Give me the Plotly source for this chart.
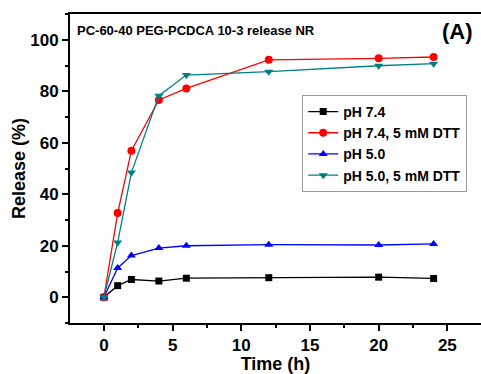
import plotly.graph_objects as go

time_h = [0, 1, 2, 4, 6, 12, 20, 24]
ph74 = [0, 4.5, 6.9, 6.3, 7.4, 7.6, 7.8, 7.3]
ph74_dtt = [0, 32.7, 56.9, 76.6, 81.1, 92.2, 92.8, 93.3]
ph50 = [0, 11.4, 16.2, 19.1, 20.0, 20.4, 20.3, 20.7]
ph50_dtt = [0, 21.3, 48.4, 78.3, 86.3, 87.6, 89.9, 90.7]

series = [
    ("pH 7.4", ph74, "#000000", "square", 7),
    ("pH 7.4, 5 mM DTT", ph74_dtt, "#ff0000", "circle", 8),
    ("pH 5.0", ph50, "#0000ff", "triangle-up", 8),
    ("pH 5.0, 5 mM DTT", ph50_dtt, "#008080", "triangle-down", 8),
]

fig = go.Figure()
for name, vals, color, sym, msize in series:
    fig.add_trace(go.Scatter(
        x=time_h, y=vals, name=name, mode="lines+markers",
        line=dict(color=color, width=1.3),
        marker=dict(color=color, symbol=sym, size=msize),
    ))

FONT = "Arial, Liberation Sans, sans-serif"
axis_common = dict(
    showline=True, linecolor="black", linewidth=2,
    ticks="outside", tickwidth=2, ticklen=6, tickcolor="black",
    showgrid=False, zeroline=False,
    tickfont=dict(family=FONT, size=17, color="black", weight="bold"),
    minor=dict(ticks="outside", ticklen=3, tickwidth=2, tickcolor="black"),
)
fig.update_xaxes(range=[-2.47, 27.45], tick0=0, dtick=5, mirror=True,
                 title=dict(text="Time (h)", font=dict(family=FONT, size=18, color="black", weight="bold"), standoff=4),
                 minor_dtick=2.5, **axis_common)
fig.update_yaxes(range=[-10, 110], tick0=0, dtick=20, mirror=False,
                 title=dict(text="Release (%)", font=dict(family=FONT, size=18, color="black", weight="bold"), standoff=0),
                 minor_dtick=10, **axis_common)

fig.update_layout(
    width=481, height=374,
    margin=dict(l=70, r=0, t=14, b=51),
    plot_bgcolor="white", paper_bgcolor="white",
    font=dict(family=FONT, color="black"),
    showlegend=True,
    legend=dict(x=0.565, y=0.738, xanchor="left", yanchor="top",
                bordercolor="#999999", borderwidth=1, bgcolor="white",
                font=dict(family=FONT, size=14, color="black", weight="bold"),
                tracegroupgap=0, itemwidth=30),
    annotations=[
        dict(text="PC-60-40 PEG-PCDCA 10-3 release NR", xref="paper", yref="paper",
             x=0.012, y=0.978, xanchor="left", yanchor="top", showarrow=False,
             font=dict(family=FONT, size=13, color="black", weight="bold")),
        dict(text="(A)", xref="paper", yref="paper",
             x=0.985, y=0.99, xanchor="right", yanchor="top", showarrow=False,
             font=dict(family=FONT, size=22, color="black", weight="bold")),
    ],
)

fig.write_html("out.html")
